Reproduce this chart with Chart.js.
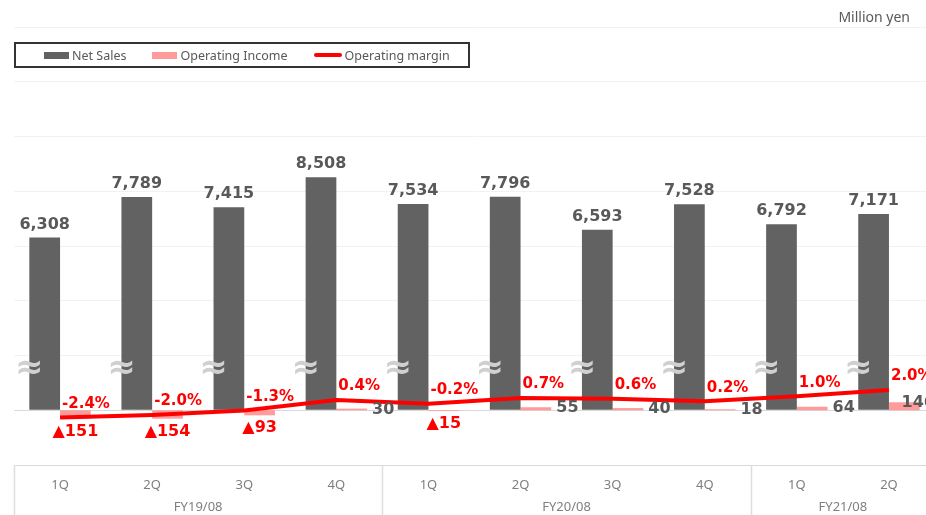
<!DOCTYPE html>
<html lang="en">
<head>
  <meta charset="UTF-8"/>
  <title>Net Sales / Operating Income</title>
  <script src="https://cdn.jsdelivr.net/npm/chart.js@4.4.1/dist/chart.umd.min.js"></script>
  <style>
    html, body { margin: 0; padding: 0; background: #fff; overflow: hidden; }
    #wrap { position: relative; width: 936px; height: 515px; }
    #unit {
      position: absolute; right: 26px; top: 7px;
      font: 14px "Noto Sans", sans-serif; color: #595959;
    }
    #legend {
      position: absolute; left: 14px; top: 42px; width: 456px; height: 26px;
      box-sizing: border-box; border: 2px solid #333;
      display: flex; align-items: center; padding-left: 28px; gap: 26px;
      font: 12.5px "Noto Sans", sans-serif; color: #595959;
    }
    #legend .item { display: flex; align-items: center; gap: 3px; }
    #legend .sw { display: inline-block; width: 25px; height: 7px; }
    #legend .sw.line { width: 28px; height: 4px; border-radius: 2px; }
  </style>
</head>
<body>
  <div id="wrap">
    <canvas id="chart"></canvas>
    <div id="unit">Million yen</div>
    <div id="legend"></div>
  </div>
  <script>
    const quarters = ['1Q','2Q','3Q','4Q','1Q','2Q','3Q','4Q','1Q','2Q']
    const fiscalYears = ['FY19/08','FY20/08','FY21/08']
    const quartersPerYear = [4, 4, 2]
    const netSales = [6308, 7789, 7415, 8508, 7534, 7796, 6593, 7528, 6792, 7171]
    const operatingIncome = [-151, -154, -93, 30, -15, 55, 40, 18, 64, 146]
    const operatingMargin = [-2.4, -2.0, -1.3, 0.4, -0.2, 0.7, 0.6, 0.2, 1.0, 2.0]

    // fiscal year groups on the index axis: centres for labels, edges for separators
    const yearStarts = quartersPerYear.map((n, i) => quartersPerYear.slice(0, i).reduce((a, b) => a + b, 0))
    const yearCenters = yearStarts.map((s, i) => s + quartersPerYear[i] / 2 - 0.5)
    const yearEdges = yearStarts.map(s => s - 0.5).concat(quarters.length - 0.5)

    const BREAK_VALUE = 1500
    const tickFont = { family: '"Noto Sans", sans-serif', size: 13 }
    const bold = size => `bold ${size}px "DejaVu Sans", Verdana, sans-serif`

    const decorations = {
      id: 'decorations',
      afterDatasetsDraw(chart) {
        const ctx = chart.ctx, area = chart.chartArea
        ctx.save()

        // axis break marks on the sales bars
        const yBreak = chart.scales.y.getPixelForValue(BREAK_VALUE)
        ctx.font = 'bold 34px "DejaVu Sans", sans-serif'
        ctx.textAlign = 'center'
        ctx.textBaseline = 'middle'
        ctx.fillStyle = '#d0d0d0'
        chart.getDatasetMeta(0).data.forEach(bar => {
          ctx.fillText('\u2248', bar.x - bar.width / 2, yBreak)
        })

        // net sales values
        ctx.font = bold(16)
        ctx.fillStyle = '#595959'
        ctx.textBaseline = 'bottom'
        chart.getDatasetMeta(0).data.forEach((bar, i) => {
          ctx.fillText(netSales[i].toLocaleString('en-US'), bar.x, bar.y - 5)
        })

        // operating income values
        chart.getDatasetMeta(1).data.forEach((bar, i) => {
          const v = operatingIncome[i]
          if (v < 0) {
            ctx.fillStyle = '#ff0000'
            ctx.textAlign = 'center'
            ctx.textBaseline = 'top'
            ctx.fillText('\u25B2' + Math.abs(v), bar.x, bar.y + 5)
          } else {
            const txt = String(v)
            const w = ctx.measureText(txt).width
            ctx.fillStyle = '#595959'
            ctx.textAlign = 'left'
            ctx.textBaseline = 'middle'
            ctx.fillText(txt, Math.min(bar.x + bar.width / 2 + 5, area.right - w), bar.y + 1)
          }
        })

        // operating margin values
        ctx.font = bold(15)
        ctx.fillStyle = '#ff0000'
        ctx.textAlign = 'left'
        ctx.textBaseline = 'bottom'
        chart.getDatasetMeta(2).data.forEach((pt, i) => {
          ctx.fillText(operatingMargin[i].toFixed(1) + '%', pt.x + 2, pt.y - 6)
        })
        ctx.restore()
      },
      afterDraw(chart) {
        // fiscal year separators in the category band
        const ctx = chart.ctx, xs = chart.scales.xFY
        ctx.save()
        ctx.strokeStyle = '#dedede'
        ctx.lineWidth = 1.5
        yearEdges.forEach(v => {
          const x = Math.round(xs.getPixelForValue(v)) + 0.5
          ctx.beginPath()
          ctx.moveTo(x, chart.chartArea.bottom)
          ctx.lineTo(x, chart.height)
          ctx.stroke()
        })
        ctx.restore()
      }
    }

    const chart = new Chart(document.getElementById('chart'), {
      type: 'bar',
      data: {
        labels: quarters,
        datasets: [
          { label: 'Net Sales', data: netSales, backgroundColor: '#626262', yAxisID: 'y',
            categoryPercentage: 0.667, barPercentage: 1 },
          { label: 'Operating Income', data: operatingIncome, backgroundColor: '#ff9b9b', yAxisID: 'y2',
            categoryPercentage: 0.667, barPercentage: 1 },
          { type: 'line', label: 'Operating margin', data: operatingMargin, borderColor: '#ff0000',
            backgroundColor: '#ff0000', borderWidth: 4, pointRadius: 0, tension: 0, yAxisID: 'y3', order: -1 }
        ]
      },
      options: {
        responsive: true,
        maintainAspectRatio: false,
        animation: false,
        layout: { padding: { left: 14, right: 1, top: 27, bottom: 0 } },
        plugins: { legend: { display: false }, tooltip: { enabled: false } },
        scales: {
          x: {
            type: 'category', position: 'bottom', weight: 0,
            grid: { drawOnChartArea: false, drawTicks: false, color: 'transparent' },
            border: { color: '#d9d9d9', width: 1 },
            ticks: { color: '#7f7f7f', font: tickFont, padding: 12, maxRotation: 0, autoSkip: false },
            afterFit: s => { s.height = 30 }
          },
          xFY: {
            type: 'linear', position: 'bottom', weight: 1, offset: false,
            min: -0.5, max: quarters.length - 0.5,
            afterBuildTicks: s => { s.ticks = yearCenters.map(v => ({ value: v })) },
            ticks: { callback: (v, i) => fiscalYears[i], color: '#7f7f7f', font: tickFont,
                     padding: 4, maxRotation: 0, autoSkip: false },
            grid: { display: false, drawTicks: false, offset: false },
            border: { display: false },
            afterFit: s => { s.height = 20 }
          },
          y: {
            min: -2000, max: 14000,
            ticks: { stepSize: 2000, display: false },
            grid: { color: c => c.tick && c.tick.value === 0 ? '#d9d9d9' : '#f2f2f2', drawTicks: false },
            border: { display: false },
            afterFit: s => { s.width = 0 }
          },
          y2: { min: -1000, max: 7000, display: false, position: 'right' },
          y3: { min: -10, max: 60, display: false, position: 'right' }
        }
      },
      plugins: [decorations]
    })

    // legend box built from the datasets
    const legend = document.getElementById('legend')
    chart.data.datasets.forEach(ds => {
      const item = document.createElement('span')
      item.className = 'item'
      const sw = document.createElement('span')
      sw.className = ds.type === 'line' ? 'sw line' : 'sw'
      sw.style.background = ds.type === 'line' ? ds.borderColor : ds.backgroundColor
      const txt = document.createElement('span')
      txt.textContent = ds.label
      item.append(sw, txt)
      legend.append(item)
    })
  </script>
</body>
</html>
